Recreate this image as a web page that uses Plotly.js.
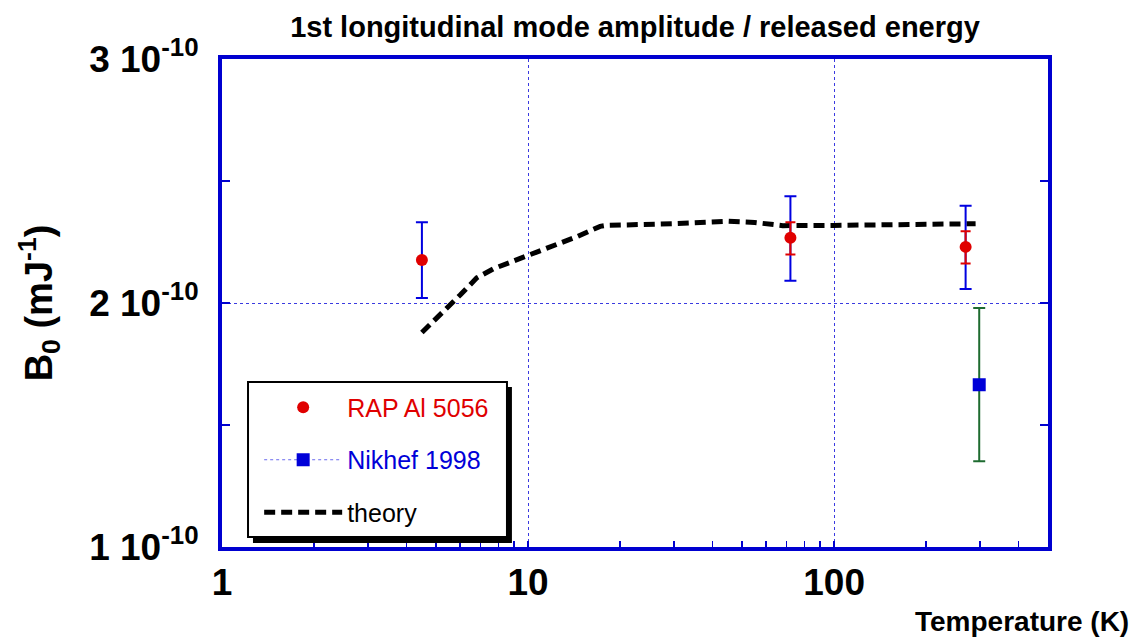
<!DOCTYPE html>
<html>
<head>
<meta charset="utf-8">
<script src="https://cdn.plot.ly/plotly-3.0.1.min.js"></script>
<style>html,body{margin:0;padding:0;background:#fff;}#chart{width:1140px;height:639px;}</style>
</head>
<body>
<div id="chart"></div>
<script>
// RAP Al 5056 measurements
const rapT = [4.5, 72, 269];
const rapB = [2.176e-10, 2.267e-10, 2.230e-10];
const rapErrOuterPlus = [0.155e-10, 0.171e-10, 0.169e-10];
const rapErrOuterMinus = [0.156e-10, 0.176e-10, 0.173e-10];
const rapErrInnerPlus = [0.008e-10, 0.064e-10, 0.064e-10];
const rapErrInnerMinus = [0.008e-10, 0.068e-10, 0.068e-10];

// Nikhef 1998
const nikT = [298];
const nikB = [1.665e-10];
const nikErr = [0.314e-10];

// theory curve
const thT = [4.5, 5.2, 6.0, 6.8, 7.7, 10, 14.4, 17.2, 18, 30, 45, 55, 68, 100, 200, 290];
const thB = [1.879e-10, 1.954e-10, 2.033e-10, 2.103e-10, 2.140e-10, 2.195e-10, 2.271e-10, 2.314e-10, 2.318e-10, 2.325e-10, 2.335e-10, 2.330e-10, 2.317e-10, 2.318e-10, 2.320e-10, 2.325e-10];

const yTickVals = [1e-10, 2e-10, 3e-10];
const yTickText = ['1 10<sup>-10</sup>', '2 10<sup>-10</sup>', '3 10<sup>-10</sup>'];
const xTickVals = [1, 10, 100];
const xTickText = ['1', '10', '100'];

const FONT = 'Arial, "Liberation Sans", sans-serif';
const FRAME = '#0000d0';
const GRID = '#3a3ae0';

const traces = [
  {
    x: thT, y: thB, mode: 'lines', name: 'theory', legendgroup: 'c', legendrank: 3,
    line: {color: '#000', width: 5, dash: '11px,6px'}
  },
  {
    x: rapT, y: rapB, mode: 'markers', showlegend: false, hoverinfo: 'skip',
    marker: {size: 12, color: 'rgba(0,0,0,0)'},
    error_y: {type: 'data', symmetric: false, array: rapErrOuterPlus, arrayminus: rapErrOuterMinus,
              color: '#0000e0', thickness: 2, width: 6}
  },
  {
    x: rapT, y: rapB, mode: 'markers', name: 'RAP Al 5056', legendgroup: 'a', legendrank: 1,
    marker: {size: 12, color: '#e00000', symbol: 'circle'},
    error_y: {type: 'data', symmetric: false, array: rapErrInnerPlus, arrayminus: rapErrInnerMinus,
              color: '#e00000', thickness: 2, width: 5}
  },
  {
    x: nikT, y: nikB, mode: 'lines+markers', name: 'Nikhef 1998', legendgroup: 'b', legendrank: 2,
    line: {color: '#6a6aee', width: 1, dash: 'dot'},
    marker: {size: 13, color: '#0000d8', symbol: 'square'},
    error_y: {type: 'data', array: nikErr, color: '#1e6b30', thickness: 2, width: 6}
  }
];

const layout = {
  width: 1140, height: 639,
  paper_bgcolor: '#fff', plot_bgcolor: '#fff',
  margin: {l: 222, r: 92, t: 59, b: 92},
  font: {family: FONT, color: '#000'},
  title: {
    text: '<b>1st longitudinal mode amplitude / released energy</b>',
    font: {family: FONT, size: 29, color: '#000'},
    x: 0.5, xref: 'paper', xanchor: 'center', y: 0.958, yref: 'container', yanchor: 'middle'
  },
  xaxis: {
    type: 'log', range: [0, Math.log10(500)],
    tickmode: 'array', tickvals: xTickVals, ticktext: xTickText,
    tickfont: {family: FONT, size: 37, color: '#000', weight: 'bold'},
    ticks: 'inside', ticklen: 6, tickwidth: 1.5, tickcolor: FRAME,
    ticklabelstandoff: 0,
    minor: {tickvals: [2,3,4,5,6,7,8,9,20,30,40,50,60,70,80,90,200,300,400], ticks: 'inside', ticklen: 6, tickwidth: 1.5, tickcolor: FRAME, showgrid: false},
    showgrid: true, gridcolor: GRID, gridwidth: 1, griddash: 'dot',
    showline: true, linecolor: FRAME, linewidth: 4, mirror: true,
    zeroline: false, fixedrange: true
  },
  yaxis: {
    range: [1e-10, 3e-10],
    tickmode: 'array', tickvals: yTickVals, ticktext: yTickText,
    tickfont: {family: FONT, size: 37, color: '#000', weight: 'bold'},
    ticks: 'inside', ticklen: 8, tickwidth: 1.5, tickcolor: FRAME,
    ticklabelstandoff: 12,
    minor: {tickvals: [1.5e-10, 2.5e-10], ticks: 'inside', ticklen: 8, tickwidth: 1.5, tickcolor: FRAME, showgrid: false},
    showgrid: true, gridcolor: GRID, gridwidth: 1, griddash: 'dot',
    showline: true, linecolor: FRAME, linewidth: 4, mirror: 'ticks',
    zeroline: false, fixedrange: true,
    title: {text: '<b>B<sub>0</sub> (mJ<sup>-1</sup>)</b>', font: {family: FONT, size: 38, color: '#000'}, standoff: 26}
  },
  showlegend: true,
  legend: {
    x: 0.045, y: 0.333, xanchor: 'left', yanchor: 'top',
    bgcolor: 'rgba(0,0,0,0)', borderwidth: 0,
    font: {family: FONT, size: 25, color: '#000'},
    traceorder: 'grouped', tracegroupgap: 17, itemwidth: 78
  },
  shapes: [
    {type: 'rect', xref: 'paper', yref: 'paper', x0: 0.0375, x1: 0.351, y0: 0.0082, y1: 0.328,
     fillcolor: '#000', line: {width: 0}, layer: 'above'},
    {type: 'rect', xref: 'paper', yref: 'paper', x0: 0.0315, x1: 0.345, y0: 0.0205, y1: 0.338,
     fillcolor: '#fff', line: {color: '#000', width: 2}, layer: 'above'}
  ],
  annotations: [
    {text: '<b>Temperature (K)</b>', xref: 'paper', yref: 'paper', x: 1.1, y: -0.152,
     xanchor: 'right', yanchor: 'middle', showarrow: false,
     font: {family: FONT, size: 28, color: '#000'}}
  ]
};

Plotly.newPlot('chart', traces, layout, {displayModeBar: false, staticPlot: true}).then(function(gd){
  // colour legend texts like the reference
  const colors = {'RAP Al 5056': '#e00000', 'Nikhef 1998': '#0000d8', 'theory': '#000'};
  gd.querySelectorAll('.legend .legendtext').forEach(function(t){
    const c = colors[t.textContent];
    if (c) t.style.fill = c;
  });
});
</script>
</body>
</html>
